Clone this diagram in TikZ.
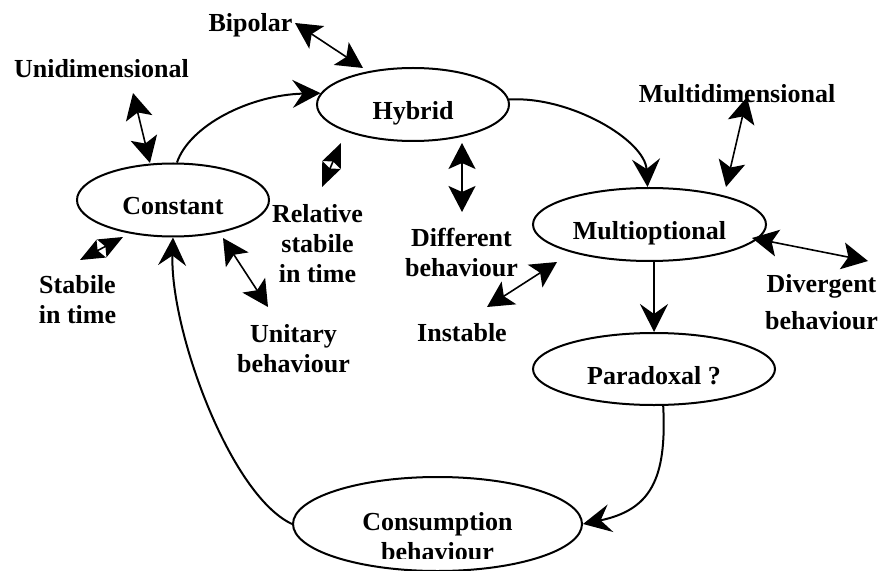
\documentclass[tikz,border=0pt]{standalone}
\usepackage{fontspec}
\setmainfont{Liberation Serif}
\usetikzlibrary{arrows.meta, shapes.geometric}

\begin{document}
\begin{tikzpicture}[
    x=0.5pt, y=-0.5pt,
    line width=1pt,
    font=\fontsize{13}{15}\selectfont\bfseries,
    state/.style={ellipse, draw, inner sep=0pt, text height=15pt, text depth=0pt},
    flow/.style={-{Stealth[length=14pt, width=14pt, inset=5pt]}},
    link/.style={{Stealth[length=13pt, width=13.5pt, inset=3pt]}-{Stealth[length=13pt, width=13.5pt, inset=3pt]}, line width=0.8pt},
    short link/.style={{Stealth[length=12pt, width=10pt, inset=2pt]}-{Stealth[length=12pt, width=10pt, inset=2pt]}, line width=0.8pt},
    lbl/.style={inner sep=0pt, align=center}
  ]

  \useasboundingbox[fill=white] (0,0) rectangle (881,571);

  % --- the five behaviour types ------------------------------------------
  \node[state, minimum width=96pt, minimum height=36.5pt] (con) at (173,200) {Constant};
  \node[state, minimum width=96pt, minimum height=36.5pt] (hyb) at (413,104.5) {Hybrid};
  \node[state, minimum width=116.5pt, minimum height=36.5pt] (mul) at (649.5,224.5) {Multioptional};
  \node[state, minimum width=121pt, minimum height=36pt] (par) at (654,369) {Paradoxal ?};
  \node[ellipse, draw, inner sep=0pt, minimum width=144.5pt, minimum height=47pt] (cns) at (437.5,524) {};
  \begin{scope}
    \clip (290,470) rectangle (590,558);
    \node[lbl] (cnsText) at (437.5,537) {Consumption\\behaviour};
  \end{scope}

  % --- the cycle ---------------------------------------------------------
  \draw[flow] (con.84) .. controls (190,125) and (250,95) .. (hyb.173);
  \draw[flow] (hyb.3) .. controls (570,96) and (645,140) .. (mul.93);
  \draw[flow] (par.north |- mul.south) -- (par.north);
  \draw[flow] (par.-76) .. controls (667,480) and (650,510) .. (cns.east);
  \draw[flow] (cns.west) .. controls (230,495) and (170,330) .. (con.south);

  % --- attributes --------------------------------------------------------
  \node[lbl, anchor=base] (bip) at (250.5,32) {Bipolar};
  \node[lbl, anchor=base] (uni) at (101.5,78) {Unidimensional};
  \node[lbl, anchor=base] (mdim) at (737,103) {Multidimensional};
  \node[lbl] (rel) at (317.5,243.5) {Relative\\stabile\\in time};
  \node[lbl] (dif) at (461.5,252.5) {Different\\behaviour};
  \node[lbl] (stb) at (77.5,300) {Stabile\\in time};
  \node[lbl] (unt) at (293.5,348.5) {Unitary\\behaviour};
  \node[lbl, anchor=base] (ins) at (462,341) {Instable};
  \node[lbl] (div) at (821.5,302.5) {Divergent\\[3.5pt]behaviour};

  % --- ends of the two-way arrows ----------------------------------------
  \coordinate (bipA) at (295,23);   \coordinate (bipB) at (363,68);
  \coordinate (uniA) at (133,93);   \coordinate (uniB) at (150,163);
  \coordinate (relA) at (322,187);  \coordinate (relB) at (341,143);
  \coordinate (stbA) at (80,260);   \coordinate (stbB) at (123,237);
  \coordinate (untA) at (268,307);  \coordinate (untB) at (223,238);
  \coordinate (difA) at (462,212);  \coordinate (difB) at (462,143);
  \coordinate (mdimA) at (747,97);  \coordinate (mdimB) at (726,187);
  \coordinate (insA) at (487,307);  \coordinate (insB) at (557,262);
  \coordinate (divA) at (868,261);  \coordinate (divB) at (752,238);

  \draw[link] (bipA) -- (bipB);
  \draw[link] (uniA) -- (uniB);
  \draw[short link] (relA) -- (relB);
  \draw[short link] (stbA) -- (stbB);
  \draw[link] (untA) -- (untB);
  \draw[link] (difA) -- (difB);
  \draw[link] (mdimA) -- (mdimB);
  \draw[link] (insA) -- (insB);
  \draw[link] (divA) -- (divB);

\end{tikzpicture}
\end{document}
